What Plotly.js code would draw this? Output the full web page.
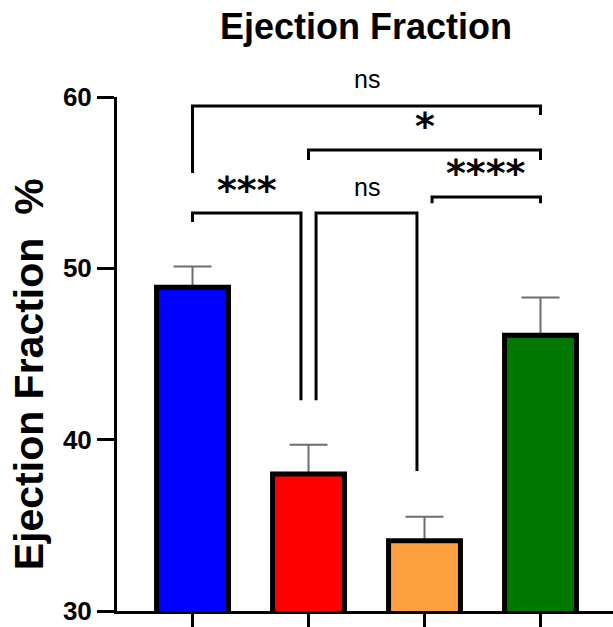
<!DOCTYPE html>
<html>
<head>
<meta charset="utf-8">
<script src="https://cdn.plot.ly/plotly-3.0.1.min.js"></script>
<style>html,body{margin:0;padding:0;background:#fff;}#chart{width:613px;height:627px;}</style>
</head>
<body>
<div id="chart"></div>
<script>
// ---- data ----
var groups = ['Group 1', 'Group 2', 'Group 3', 'Group 4'];
var positions = [0, 1, 2, 3];
var means = [48.9, 38.0, 34.1, 46.1];
var sem = [1.2, 1.7, 1.4, 2.2];
var barColors = ['#0000ff', '#ff0000', '#ffa040', '#007800'];
var yTicks = [30, 40, 50, 60];
var chartTitle = 'Ejection Fraction';
var yTitle = 'Ejection Fraction  %';
// comparisons: [from group, to group, label]
var comparisons = [
  [0, 3, 'ns'],
  [1, 3, '*'],
  [2, 3, '****'],
  [0, 1, '***'],
  [1, 2, 'ns']
];

// ---- layout of comparison brackets (style/positions) ----
var yMin = 30, yMax = 60;
var bracketGeom = [
  {x0: 0, x1: 3, y: 59.47, leg0: 55.56, leg1: 58.95, ty: 61.05},
  {x0: 1, x1: 3, y: 56.9, leg0: 56.32, leg1: 56.32, ty: 58.3},
  {x0: 2.065, x1: 3, y: 54.16, leg0: 53.8, leg1: 53.8, ty: 55.55},
  {x0: 0, x1: 0.935, y: 53.23, leg0: 52.7, leg1: 42.3, ty: 54.6},
  {x0: 1.065, x1: 1.935, y: 53.23, leg0: 42.3, leg1: 38.17, ty: 54.75}
];

var shapes = [];
var annotations = [];
comparisons.forEach(function (c, i) {
  var g = bracketGeom[i];
  shapes.push({
    type: 'path', xref: 'x', yref: 'y',
    path: 'M ' + g.x0 + ',' + g.leg0 + ' L ' + g.x0 + ',' + g.y + ' L ' + g.x1 + ',' + g.y + ' L ' + g.x1 + ',' + g.leg1,
    line: {color: '#000', width: 3}
  });
  var isStar = c[2].indexOf('*') >= 0;
  annotations.push({
    xref: 'x', yref: 'paper', x: (g.x0 + g.x1) / 2, y: (g.ty - yMin) / (yMax - yMin),
    text: c[2], showarrow: false, xanchor: 'center', yanchor: 'middle',
    font: isStar ? {family: 'DejaVu Sans', size: 38, color: '#000', weight: 'bold'}
                 : {family: 'Liberation Sans, Arial', size: 25, color: '#000'}
  });
});
annotations.push({
  xref: 'paper', yref: 'paper', x: -0.177, y: 0.461,
  text: yTitle, textangle: -90, showarrow: false, xanchor: 'center', yanchor: 'middle',
  font: {family: 'Liberation Sans, Arial', size: 41, color: '#000', weight: 'bold'}
});

// carrier trace for the upper error bars (drawn beneath the visible bars)
var errTrace = {
  type: 'bar',
  x: positions,
  y: means,
  width: 0.62,
  hoverinfo: 'skip',
  textposition: 'none',
  marker: {color: 'rgba(0,0,0,0)', line: {width: 0}},
  error_y: {type: 'data', array: sem, arrayminus: sem.map(function(){return 0;}), symmetric: false,
            color: '#6e6e6e', thickness: 2, width: 19}
};
var barTrace = {
  type: 'bar',
  x: positions,
  y: means,
  text: groups,
  textposition: 'none',
  hoverinfo: 'text+y',
  width: 0.62,
  marker: {color: barColors, line: {color: '#000', width: 5}}
};

var layout = {
  width: 613, height: 627,
  margin: {l: 117, r: 0, t: 97, b: 16, pad: 0},
  paper_bgcolor: '#fff', plot_bgcolor: '#fff',
  showlegend: false,
  barmode: 'overlay',
  title: {text: chartTitle, xref: 'container', x: 0.597, xanchor: 'center',
          yref: 'container', y: 0.958, yanchor: 'middle',
          font: {family: 'Liberation Sans, Arial', size: 36, color: '#000', weight: 'bold'}},
  xaxis: {range: [-0.651, 3.625], tickvals: positions, showticklabels: false,
          ticks: 'outside', ticklen: 17, tickwidth: 3, tickcolor: '#000',
          showline: true, linecolor: '#000', linewidth: 3, showgrid: false, zeroline: false, fixedrange: true},
  yaxis: {range: [yMin, yMax], tickvals: yTicks, ticks: 'outside', ticklen: 17, tickwidth: 3, tickcolor: '#000',
          showline: true, linecolor: '#000', linewidth: 3, showgrid: false, zeroline: false,
          tickfont: {family: 'Liberation Sans, Arial', size: 26, color: '#000', weight: 'bold'}, fixedrange: true},
  shapes: shapes,
  annotations: annotations
};

Plotly.newPlot('chart', [errTrace, barTrace], layout, {displayModeBar: false, staticPlot: true});
</script>
</body>
</html>
